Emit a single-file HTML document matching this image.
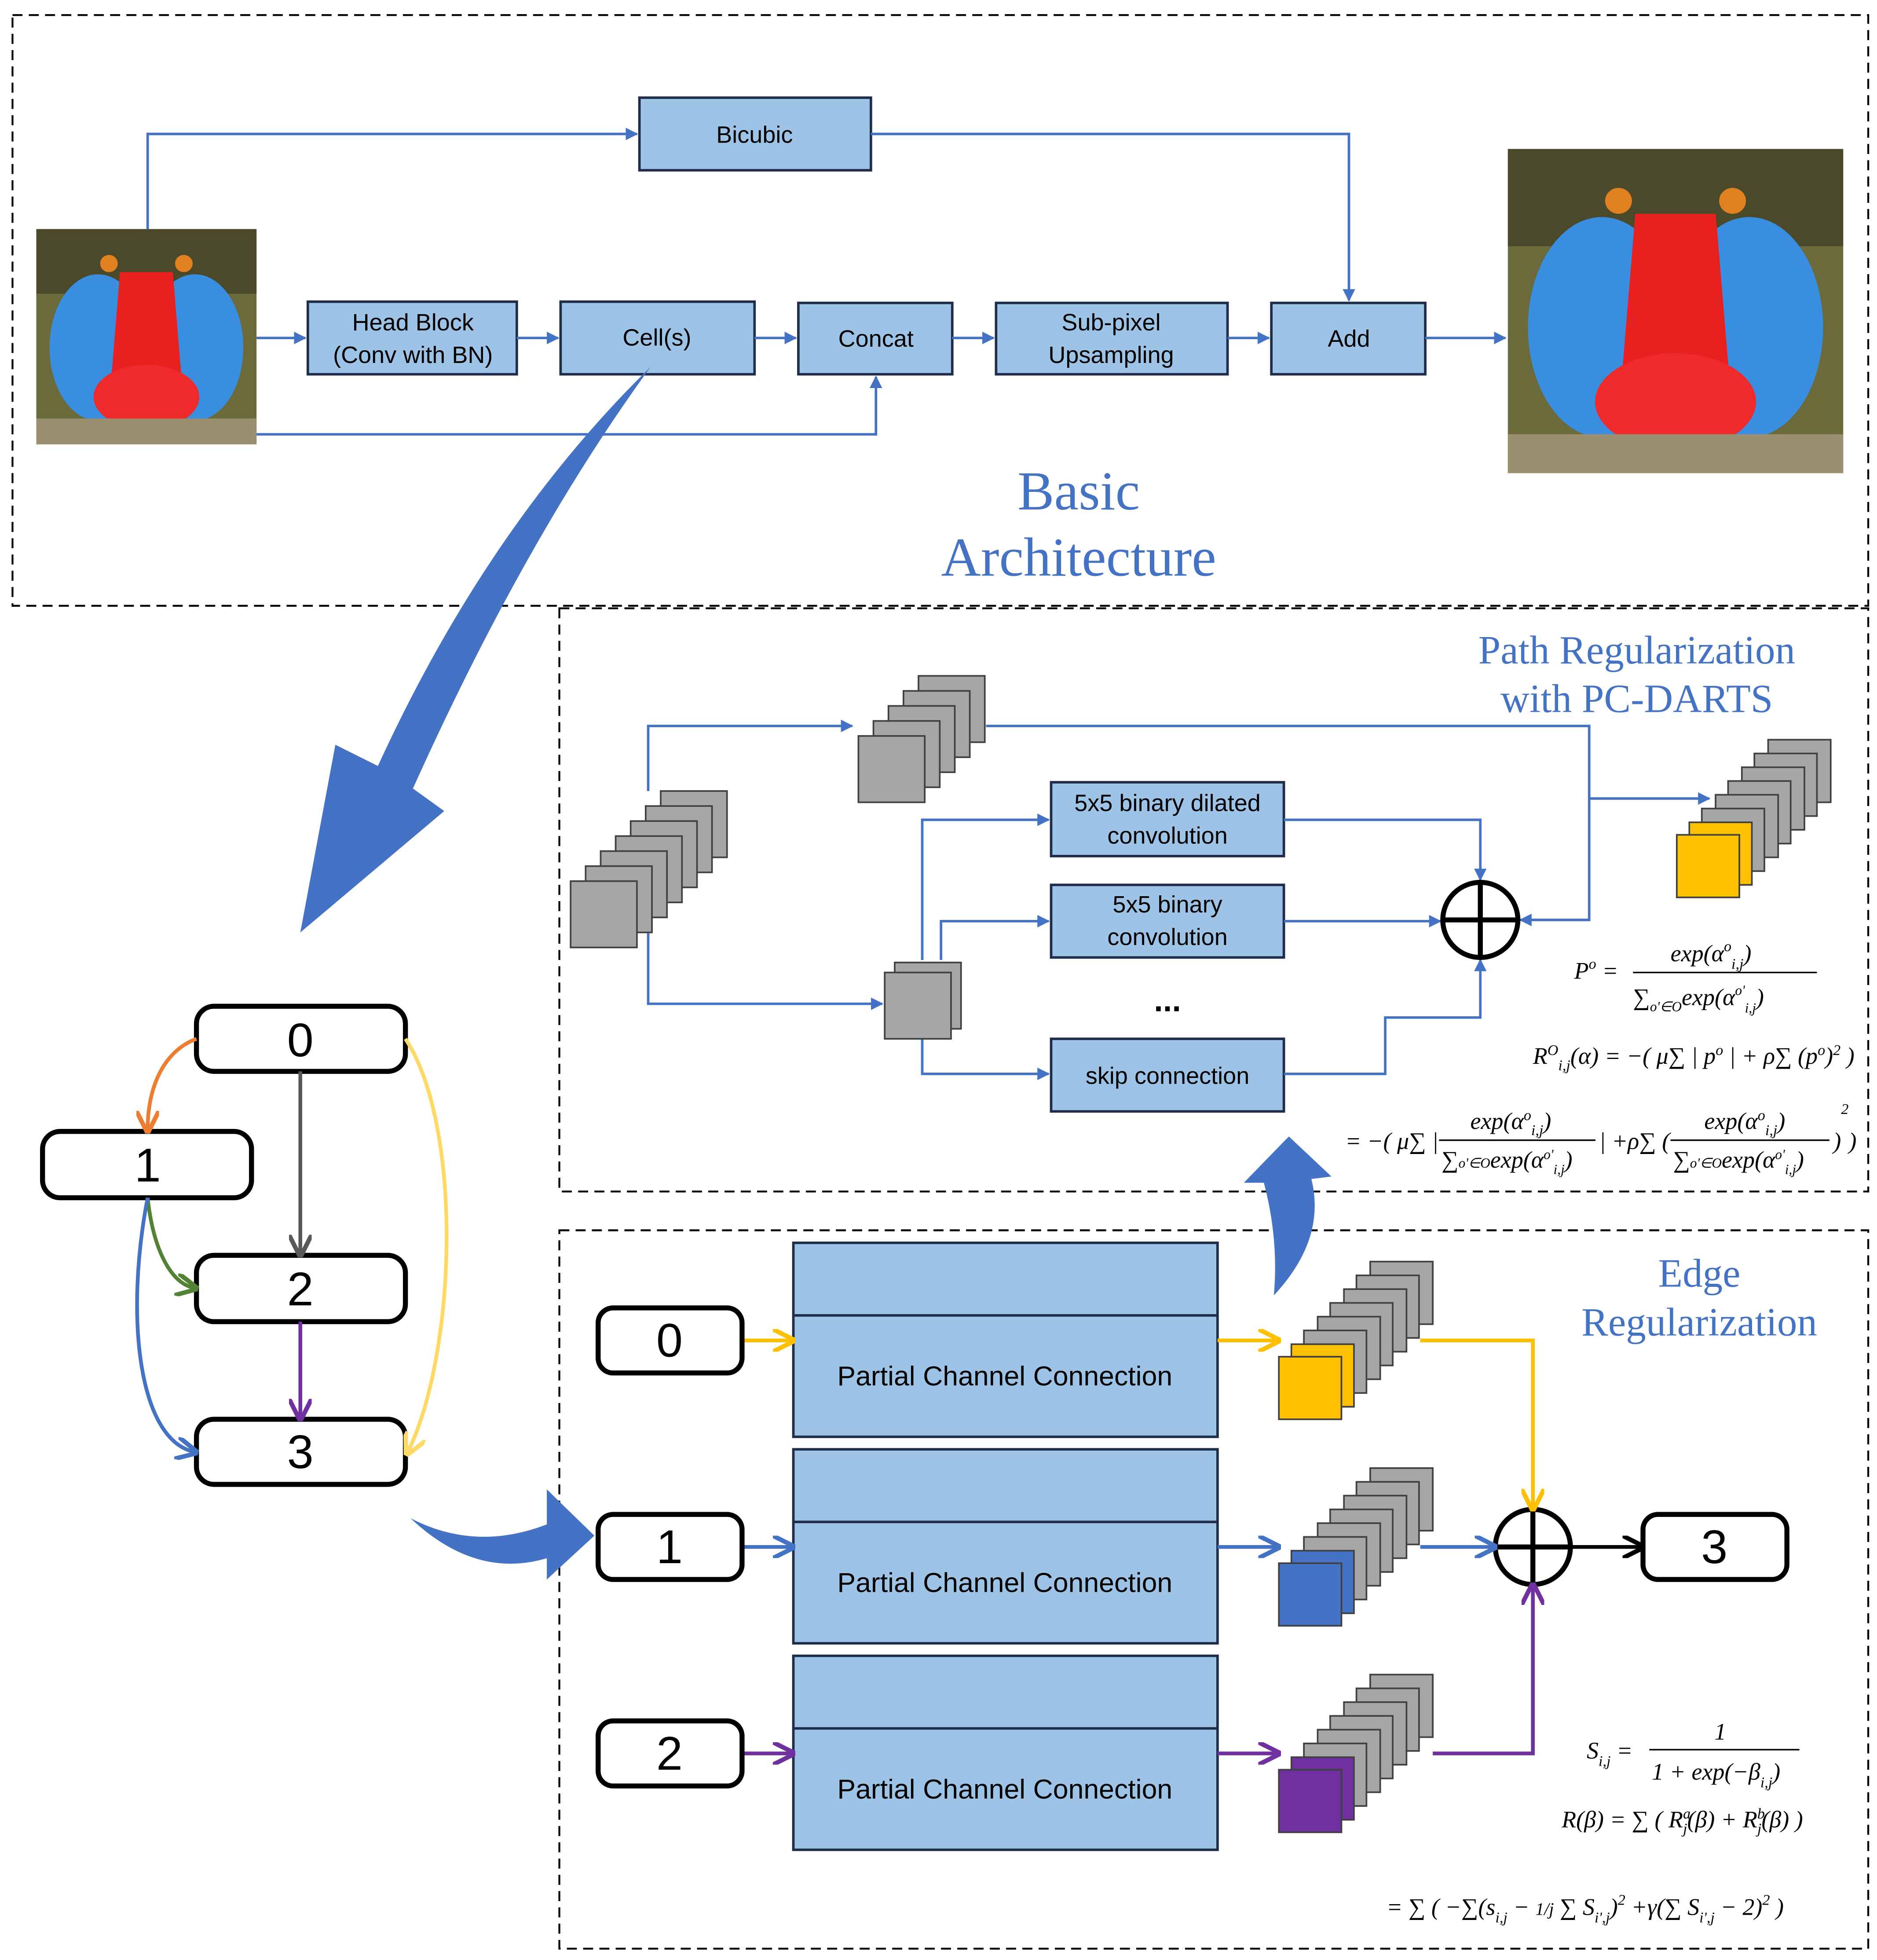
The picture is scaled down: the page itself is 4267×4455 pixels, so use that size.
<!DOCTYPE html>
<html><head><meta charset="utf-8"><style>
html,body{margin:0;padding:0;background:#fff}
svg{display:block}
text{font-family:"Liberation Sans",sans-serif}
.s{font-family:"Liberation Serif",serif}
</style></head><body>
<svg width="4267" height="4455" viewBox="0 0 1500 1566" xmlns="http://www.w3.org/2000/svg">
<defs>
<marker id="ab" viewBox="0 0 10 10" refX="9" refY="5" markerWidth="5" markerHeight="5" orient="auto"><path d="M0,0L10,5L0,10z" fill="#4472c4"/></marker>
<marker id="ao" viewBox="0 0 10 10" refX="8" refY="5" markerWidth="6" markerHeight="6" orient="auto"><path d="M0,0L10,5L0,10" fill="none" stroke="#ed7d31" stroke-width="2"/></marker>
<marker id="ay" viewBox="0 0 10 10" refX="8" refY="5" markerWidth="6" markerHeight="6" orient="auto"><path d="M0,0L10,5L0,10" fill="none" stroke="#ffc000" stroke-width="2"/></marker>
<marker id="ayl" viewBox="0 0 10 10" refX="8" refY="5" markerWidth="6" markerHeight="6" orient="auto"><path d="M0,0L10,5L0,10" fill="none" stroke="#ffd966" stroke-width="2"/></marker>
<marker id="abl" viewBox="0 0 10 10" refX="8" refY="5" markerWidth="6" markerHeight="6" orient="auto"><path d="M0,0L10,5L0,10" fill="none" stroke="#4472c4" stroke-width="2"/></marker>
<marker id="ag" viewBox="0 0 10 10" refX="8" refY="5" markerWidth="6" markerHeight="6" orient="auto"><path d="M0,0L10,5L0,10" fill="none" stroke="#548235" stroke-width="2"/></marker>
<marker id="ap" viewBox="0 0 10 10" refX="8" refY="5" markerWidth="6" markerHeight="6" orient="auto"><path d="M0,0L10,5L0,10" fill="none" stroke="#7030a0" stroke-width="2"/></marker>
<marker id="agr" viewBox="0 0 10 10" refX="8" refY="5" markerWidth="6" markerHeight="6" orient="auto"><path d="M0,0L10,5L0,10" fill="none" stroke="#595959" stroke-width="2"/></marker>
<marker id="ak" viewBox="0 0 10 10" refX="8" refY="5" markerWidth="6" markerHeight="6" orient="auto"><path d="M0,0L10,5L0,10" fill="none" stroke="#000" stroke-width="2"/></marker>
<g id="mand">
 <rect x="0" y="0" width="100" height="100" fill="#6b6a3a"/>
 <rect x="0" y="0" width="100" height="30" fill="#4a4a2a"/>
 <ellipse cx="28" cy="55" rx="22" ry="34" fill="#3a8ee0"/>
 <ellipse cx="72" cy="55" rx="22" ry="34" fill="#3a8ee0"/>
 <path d="M38,20 L62,20 L66,70 L50,80 L34,70Z" fill="#e82020"/>
 <ellipse cx="50" cy="78" rx="24" ry="15" fill="#ee2a2a"/>
 <rect x="0" y="88" width="100" height="12" fill="#9a9070"/>
 <circle cx="33" cy="16" r="4" fill="#e08020"/><circle cx="67" cy="16" r="4" fill="#e08020"/>
</g>
<rect id="gs" width="53" height="53" fill="#a6a6a6" stroke="#404040" stroke-width="1.3"/>
<rect id="gs2" width="50" height="50" fill="#a6a6a6" stroke="#404040" stroke-width="1.3"/>
</defs>
<rect width="1500" height="1566" fill="#fff"/>
<!-- dashed boxes -->
<g fill="none" stroke="#000" stroke-width="1.5" stroke-dasharray="8,5">
<rect x="10" y="12" width="1483" height="472"/>
<rect x="447" y="486" width="1046" height="466"/>
<rect x="447" y="983" width="1046" height="574"/>
</g>
<!-- images -->
<use href="#mand" transform="translate(29,183) scale(1.76,1.72)"/>
<use href="#mand" transform="translate(1205,119) scale(2.68,2.59)"/>
<!-- top boxes -->
<g fill="#9dc3e6" stroke="#1f2d4a" stroke-width="2">
<rect x="511" y="78" width="185" height="58"/>
<rect x="246" y="241" width="167" height="58"/>
<rect x="448" y="241" width="155" height="58"/>
<rect x="638" y="242" width="123" height="57"/>
<rect x="796" y="242" width="185" height="57"/>
<rect x="1016" y="242" width="123" height="57"/>
<rect x="840" y="625" width="186" height="59"/>
<rect x="840" y="707" width="186" height="58"/>
<rect x="840" y="830" width="186" height="58"/>
<rect x="634" y="993" width="339" height="155"/>
<rect x="634" y="1158" width="339" height="155"/>
<rect x="634" y="1323" width="339" height="155"/>
</g>
<g stroke="#1f2d4a" stroke-width="2"><line x1="634" y1="1051" x2="973" y2="1051"/><line x1="634" y1="1216" x2="973" y2="1216"/><line x1="634" y1="1381" x2="973" y2="1381"/></g>
<g font-size="19" text-anchor="middle" fill="#000">
<text x="603" y="114">Bicubic</text>
<text x="330" y="264">Head Block</text><text x="330" y="290">(Conv with BN)</text>
<text x="525" y="276">Cell(s)</text>
<text x="700" y="277">Concat</text>
<text x="888" y="264">Sub-pixel</text><text x="888" y="290">Upsampling</text>
<text x="1078" y="277">Add</text>
<text x="933" y="648">5x5 binary dilated</text><text x="933" y="674">convolution</text>
<text x="933" y="729">5x5 binary</text><text x="933" y="755">convolution</text>
<text x="933" y="866">skip connection</text>
<text x="803" y="1107" font-size="22">Partial Channel Connection</text>
<text x="803" y="1272" font-size="22">Partial Channel Connection</text>
<text x="803" y="1437" font-size="22">Partial Channel Connection</text>
<text x="933" y="808" font-size="26" font-weight="bold">...</text>
</g>
<!-- top connectors -->
<g fill="none" stroke="#4472c4" stroke-width="2" marker-end="url(#ab)">
<path d="M118,183V107H509"/>
<path d="M696,107H1078V240"/>
<path d="M205,270H244"/><path d="M413,270H446"/><path d="M603,270H636"/><path d="M761,270H794"/><path d="M981,270H1014"/><path d="M1139,270H1203"/>
<path d="M205,347H700V301"/>
<path d="M518,632V580H681"/>
<path d="M518,700V802H705"/>
<path d="M788,580H1270V735H1215"/>
<path d="M1270,638H1366"/>
<path d="M737,767V655H838"/>
<path d="M752,767V736H838"/>
<path d="M737,829V858H838"/>
<path d="M1026,655H1183V703"/>
<path d="M1026,736H1151"/>
<path d="M1026,858H1107V813H1183V767"/>
</g>
<line x1="1270" y1="735" x2="1213" y2="735" stroke="#4472c4" stroke-width="2"/>
<!-- stacks -->
<g>
<use href="#gs" x="528" y="632"/><use href="#gs" x="516" y="644"/><use href="#gs" x="504" y="656"/><use href="#gs" x="492" y="668"/><use href="#gs" x="480" y="680"/><use href="#gs" x="468" y="692"/><use href="#gs" x="456" y="704"/>
<use href="#gs" x="734" y="540"/><use href="#gs" x="722" y="552"/><use href="#gs" x="710" y="564"/><use href="#gs" x="698" y="576"/><use href="#gs" x="686" y="588"/>
<use href="#gs" x="715" y="769"/><use href="#gs" x="707" y="777"/>
</g>
<g id="st1">
<use href="#gs2" x="1413" y="591"/><use href="#gs2" x="1402" y="602"/><use href="#gs2" x="1392" y="613"/><use href="#gs2" x="1381" y="624"/><use href="#gs2" x="1371" y="635"/><use href="#gs2" x="1360" y="646"/>
<rect x="1350" y="657" width="50" height="50" fill="#ffc000" stroke="#404040" stroke-width="1.3"/>
<rect x="1340" y="667" width="50" height="50" fill="#ffc000" stroke="#404040" stroke-width="1.3"/>
</g>
<g transform="translate(-318,417)"><use href="#gs2" x="1413" y="591"/><use href="#gs2" x="1402" y="602"/><use href="#gs2" x="1392" y="613"/><use href="#gs2" x="1381" y="624"/><use href="#gs2" x="1371" y="635"/><use href="#gs2" x="1360" y="646"/>
<rect x="1350" y="657" width="50" height="50" fill="#ffc000" stroke="#404040" stroke-width="1.3"/><rect x="1340" y="667" width="50" height="50" fill="#ffc000" stroke="#404040" stroke-width="1.3"/></g>
<g transform="translate(-318,582)"><use href="#gs2" x="1413" y="591"/><use href="#gs2" x="1402" y="602"/><use href="#gs2" x="1392" y="613"/><use href="#gs2" x="1381" y="624"/><use href="#gs2" x="1371" y="635"/><use href="#gs2" x="1360" y="646"/>
<rect x="1350" y="657" width="50" height="50" fill="#4472c4" stroke="#404040" stroke-width="1.3"/><rect x="1340" y="667" width="50" height="50" fill="#4472c4" stroke="#404040" stroke-width="1.3"/></g>
<g transform="translate(-318,747)"><use href="#gs2" x="1413" y="591"/><use href="#gs2" x="1402" y="602"/><use href="#gs2" x="1392" y="613"/><use href="#gs2" x="1381" y="624"/><use href="#gs2" x="1371" y="635"/><use href="#gs2" x="1360" y="646"/>
<rect x="1350" y="657" width="50" height="50" fill="#7030a0" stroke="#404040" stroke-width="1.3"/><rect x="1340" y="667" width="50" height="50" fill="#7030a0" stroke="#404040" stroke-width="1.3"/></g>
<!-- circle plus -->
<g fill="none" stroke="#000" stroke-width="4">
<circle cx="1183" cy="735" r="30"/><path d="M1153,735H1213M1183,705V765"/>
<circle cx="1225" cy="1236" r="30"/><path d="M1195,1236H1255M1225,1206V1266"/>
</g>
<!-- edge connectors -->
<g fill="none" stroke-width="3">
<path d="M593,1071H632" stroke="#ffc000" marker-end="url(#ay)"/>
<path d="M973,1071H1020" stroke="#ffc000" marker-end="url(#ay)"/>
<path d="M1135,1071H1225V1204" stroke="#ffc000" marker-end="url(#ay)"/>
<path d="M593,1236H632" stroke="#4472c4" marker-end="url(#abl)"/>
<path d="M973,1236H1020" stroke="#4472c4" marker-end="url(#abl)"/>
<path d="M1135,1236H1193" stroke="#4472c4" marker-end="url(#abl)"/>
<path d="M593,1401H632" stroke="#7030a0" marker-end="url(#ap)"/>
<path d="M973,1401H1020" stroke="#7030a0" marker-end="url(#ap)"/>
<path d="M1145,1401H1225V1268" stroke="#7030a0" marker-end="url(#ap)"/>
<path d="M1255,1236H1311" stroke="#000" marker-end="url(#ak)"/>
</g>
<!-- node boxes -->
<g fill="#fff" stroke="#000" stroke-width="4">
<rect x="157" y="804" width="167" height="52" rx="14"/>
<rect x="34" y="904" width="167" height="53" rx="14"/>
<rect x="157" y="1003" width="167" height="53" rx="14"/>
<rect x="157" y="1134" width="167" height="52" rx="14"/>
<rect x="478" y="1045" width="115" height="52" rx="12"/>
<rect x="478" y="1210" width="115" height="52" rx="12"/>
<rect x="478" y="1375" width="115" height="52" rx="12"/>
<rect x="1313" y="1210" width="115" height="52" rx="12"/>
</g>
<g font-size="38" text-anchor="middle">
<text x="240" y="844">0</text><text x="118" y="944">1</text><text x="240" y="1043">2</text><text x="240" y="1173">3</text>
<text x="535" y="1084">0</text><text x="535" y="1249">1</text><text x="535" y="1414">2</text><text x="1370" y="1249">3</text>
</g>
<!-- graph edges -->
<g fill="none" stroke-width="3">
<path d="M157,830 C130,840 118,870 118,902" stroke="#ed7d31" marker-end="url(#ao)"/>
<path d="M240,856V1001" stroke="#595959" marker-end="url(#agr)"/>
<path d="M118,957 C122,995 135,1025 155,1029" stroke="#548235" marker-end="url(#ag)"/>
<path d="M240,1056V1132" stroke="#7030a0" marker-end="url(#ap)"/>
<path d="M118,957 C100,1050 110,1150 155,1160" stroke="#4472c4" marker-end="url(#abl)"/>
<path d="M324,830 C370,900 365,1080 326,1160" stroke="#ffd966" marker-end="url(#ayl)"/>
</g>
<!-- big arrows -->
<g fill="#4472c4">
<path d="M520,293 Q390,420 302,612 L268,595 L240,745 L355,648 L330,630 Q420,430 520,293Z"/>
<path d="M1018,1035 Q1060,990 1048,942 L1064,940 L1030,908 L994,945 L1010,945 Q1022,990 1018,1035Z"/>
<path d="M328,1213 Q380,1240 437,1218 L437,1190 L475,1227 L437,1262 L437,1245 Q380,1262 328,1213Z"/>
</g>
<!-- titles -->
<g class="s" fill="#4472c4" text-anchor="middle">
<text class="s" x="862" y="407" font-size="44">Basic</text>
<text class="s" x="862" y="460" font-size="44">Architecture</text>
<text class="s" x="1308" y="530" font-size="32">Path Regularization</text>
<text class="s" x="1308" y="569" font-size="32">with PC-DARTS</text>
<text class="s" x="1358" y="1028" font-size="32">Edge</text>
<text class="s" x="1358" y="1067" font-size="32">Regularization</text>
</g>
<!-- formulas -->
<g class="s" font-size="19" fill="#000" font-style="italic">
<text class="s" x="1258" y="782">P<tspan font-size="12" dy="-8">o</tspan><tspan dy="8"> =</tspan></text>
<text class="s" x="1335" y="768">exp(α<tspan font-size="12" dy="-8">o</tspan><tspan font-size="12" dy="14">i,j</tspan><tspan dy="-6">)</tspan></text>
<line x1="1305" y1="777" x2="1452" y2="777" stroke="#000" stroke-width="1.2"/>
<text class="s" x="1305" y="803">∑<tspan font-size="11" dy="5">o'∈O</tspan><tspan dy="-5">exp(α</tspan><tspan font-size="11" dy="-8">o'</tspan><tspan font-size="11" dy="14">i,j</tspan><tspan dy="-6">)</tspan></text>
<text class="s" x="1225" y="850">R<tspan font-size="12" dy="-7">O</tspan><tspan font-size="12" dy="12">i,j</tspan><tspan dy="-5">(α) = −( μ∑ | p</tspan><tspan font-size="12" dy="-7">o</tspan><tspan dy="7"> | + ρ∑ (p</tspan><tspan font-size="12" dy="-7">o</tspan><tspan dy="7">)</tspan><tspan font-size="12" dy="-7">2</tspan><tspan dy="7"> )</tspan></text>
<text class="s" x="1075" y="918">= −( μ∑ |</text>
<text class="s" x="1175" y="902">exp(α<tspan font-size="12" dy="-7">o</tspan><tspan font-size="12" dy="12">i,j</tspan><tspan dy="-5">)</tspan></text>
<line x1="1150" y1="911" x2="1275" y2="911" stroke="#000" stroke-width="1.2"/>
<text class="s" x="1152" y="933">∑<tspan font-size="11">o'∈O</tspan>exp(α<tspan font-size="11" dy="-7">o'</tspan><tspan font-size="11" dy="12">i,j</tspan><tspan dy="-5">)</tspan></text>
<text class="s" x="1278" y="918">| +ρ∑ (</text>
<text class="s" x="1362" y="902">exp(α<tspan font-size="12" dy="-7">o</tspan><tspan font-size="12" dy="12">i,j</tspan><tspan dy="-5">)</tspan></text>
<line x1="1335" y1="911" x2="1462" y2="911" stroke="#000" stroke-width="1.2"/>
<text class="s" x="1337" y="933">∑<tspan font-size="11">o'∈O</tspan>exp(α<tspan font-size="11" dy="-7">o'</tspan><tspan font-size="11" dy="12">i,j</tspan><tspan dy="-5">)</tspan></text>
<text class="s" x="1465" y="918">)<tspan font-size="12" dy="-28">2</tspan><tspan dy="28">)</tspan></text>
<text class="s" x="1268" y="1405">S<tspan font-size="12" dy="6">i,j</tspan><tspan dy="-6"> =</tspan></text>
<text class="s" x="1370" y="1390">1</text>
<line x1="1318" y1="1398" x2="1438" y2="1398" stroke="#000" stroke-width="1.2"/>
<text class="s" x="1320" y="1422">1 + exp(−β<tspan font-size="12" dy="6">i,j</tspan><tspan dy="-6">)</tspan></text>
<text class="s" x="1248" y="1460">R(β) = ∑ ( R<tspan font-size="12" dy="-7">a</tspan><tspan font-size="12" dx="-6" dy="12">j</tspan><tspan dy="-5">(β) + R</tspan><tspan font-size="12" dy="-7">b</tspan><tspan font-size="12" dx="-6" dy="12">j</tspan><tspan dy="-5">(β) )</tspan></text>
<text class="s" x="1108" y="1530">= ∑ ( −∑(s<tspan font-size="12" dy="6">i,j</tspan><tspan dy="-6"> − </tspan><tspan font-size="14">1/j</tspan> ∑ S<tspan font-size="12" dy="6">i',j</tspan><tspan dy="-6">)</tspan><tspan font-size="12" dy="-8">2</tspan><tspan dy="8"> +γ(∑ S</tspan><tspan font-size="12" dy="6">i',j</tspan><tspan dy="-6"> − 2)</tspan><tspan font-size="12" dy="-8">2</tspan><tspan dy="8"> )</tspan></text>
</g>
</svg>
</body></html>
